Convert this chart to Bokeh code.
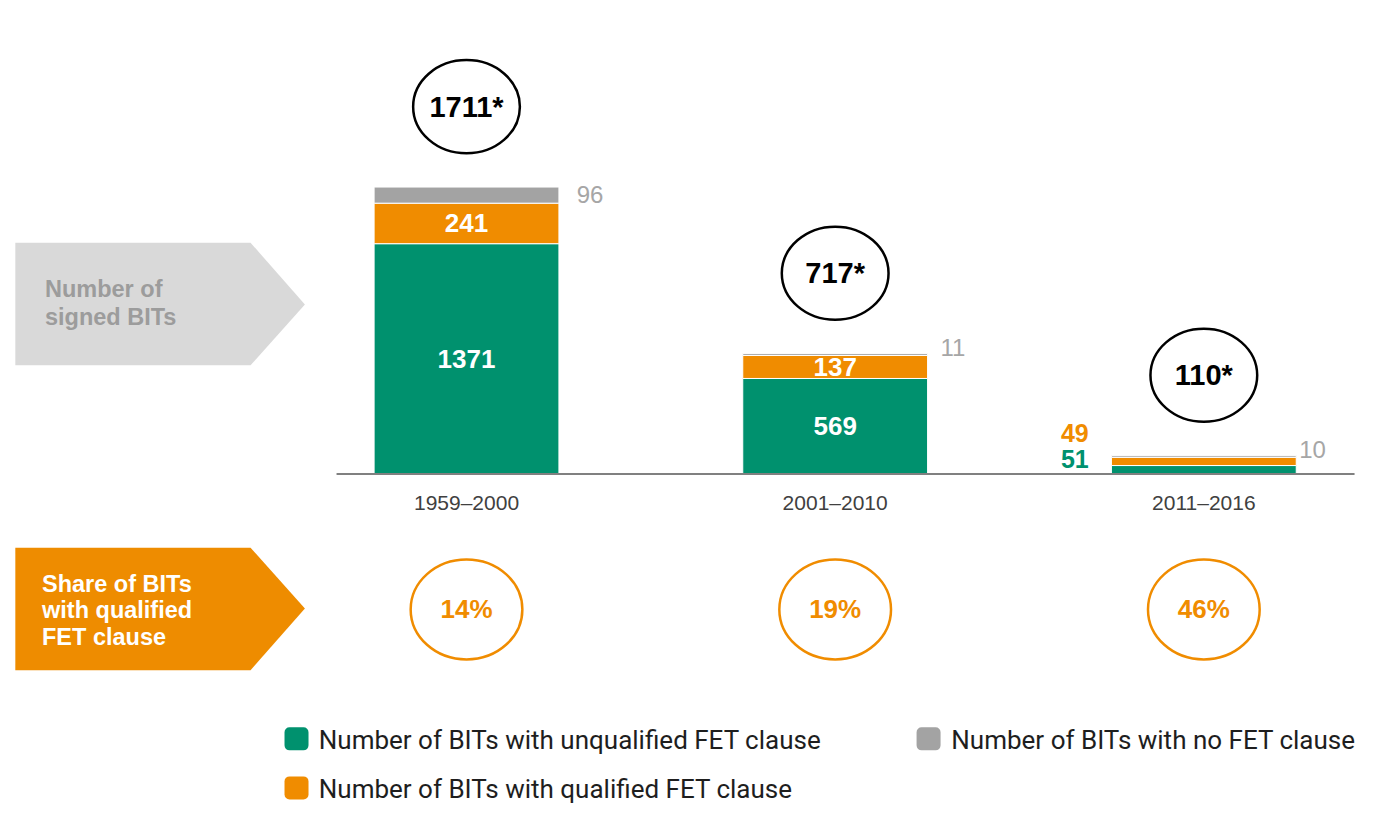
from bokeh.plotting import figure
from bokeh.models import ColumnDataSource, Range1d
from bokeh.core.properties import value
from bokeh.embed import file_html
from bokeh.resources import INLINE

# ---------------- data ----------------
categories = ["1959–2000", "2001–2010", "2011–2016"]
unqualified = [1371, 569, 51]
qualified = [241, 137, 49]
no_fet = [96, 11, 10]
total_labels = ["1711*", "717*", "110*"]
share_labels = ["14%", "19%", "46%"]
series_names = ["Number of BITs with unqualified FET clause",
                "Number of BITs with qualified FET clause",
                "Number of BITs with no FET clause"]

GREEN = "#00916E"
ORANGE = "#F08C00"
GRAY = "#A3A3A3"
FONT = value("Liberation Sans")
LEGFONT = value("Roboto")

# layout helpers: reference-pixel position -> data coordinates
XC0, XSTEP = 471.5, 373.0     # first bar centre, spacing (ref px)
BASE, PXU = 483.0, 0.1714     # baseline ref y, ref px per BIT
def X(rx):
    return (rx - XC0) / XSTEP
def Y(ry):
    return (BASE - ry) / PXU
def W(px):
    return px / XSTEP
def H(px):
    return px / PXU

W_FIG, H_FIG = 1359, 807
p = figure(width=W_FIG, height=H_FIG, output_backend="svg", toolbar_location=None,
           x_axis_location=None, y_axis_location=None,
           x_range=Range1d(X(0), X(1375)), y_range=Range1d(Y(823), Y(0)),
           min_border=0, outline_line_color=None, background_fill_color="white",
           border_fill_color="white")
p.xgrid.visible = False
p.ygrid.visible = False

xs = list(range(len(categories)))
src = ColumnDataSource(dict(x=xs, unq=unqualified, qual=qualified, nofet=no_fet))
BAR_W = W(187)
p.vbar_stack(["unq", "qual", "nofet"], x="x", width=BAR_W, color=[GREEN, ORANGE, GRAY],
             line_color="white", line_width=1, source=src)

# baseline
p.segment(x0=[X(340)], y0=[0], x1=[X(1370)], y1=[0], line_color="#808080", line_width=2)

# category labels
p.text(x=xs, y=[Y(512)] * 3, text=categories, text_align="center", text_baseline="middle",
       text_font=FONT, text_font_size="21px", text_color="#404040")

# inside labels (first two bars)
in_x, in_y, in_t = [], [], []
for i in range(2):
    in_x += [i, i]
    in_y += [unqualified[i] / 2, unqualified[i] + qualified[i] / 2]
    in_t += [str(unqualified[i]), str(qualified[i])]
p.text(x=in_x, y=in_y, text=in_t, text_align="center", text_baseline="middle",
       text_font=FONT, text_font_style="bold", text_font_size="26px", text_color="white")

# outside labels for last bar
i = 2
p.text(x=[i - BAR_W / 2 - W(23)] * 2, y=[Y(441), Y(468)],
       text=[str(qualified[i]), str(unqualified[i])], text_align="right", text_baseline="middle",
       text_font=FONT, text_font_style="bold", text_font_size="25px", text_color=[ORANGE, GREEN])

# gray (no FET) labels right of stacks
tops = [u + q + n for u, q, n in zip(unqualified, qualified, no_fet)]
g_dx = [W(18), W(13), W(3)]
g_dy = [H(-8), H(6), H(6)]
p.text(x=[xs[k] + BAR_W / 2 + g_dx[k] for k in xs], y=[tops[k] + g_dy[k] for k in xs],
       text=[str(v) for v in no_fet], text_align="left", text_baseline="middle",
       text_font=FONT, text_font_size="24px", text_color="#A6A6A6")

# total ellipses
tot_y = [t + H(82) for t in tops]
p.ellipse(x=xs, y=tot_y, width=W(108), height=H(95), fill_color=None,
          line_color="black", line_width=2.5)
p.text(x=xs, y=tot_y, text=total_labels, text_align="center", text_baseline="middle",
       text_font=FONT, text_font_style="bold", text_font_size="29px", text_color="black")

# share ellipses
p.ellipse(x=xs, y=[Y(621)] * 3, width=W(113), height=H(102), fill_color=None,
          line_color=ORANGE, line_width=2.5)
p.text(x=xs, y=[Y(621)] * 3, text=share_labels, text_align="center", text_baseline="middle",
       text_font=FONT, text_font_style="bold", text_font_size="26px", text_color=ORANGE)

# left arrow boxes
p.patch(x=[X(15), X(253), X(308), X(253), X(15)], y=[Y(247), Y(247), Y(310), Y(372), Y(372)],
        fill_color="#D9D9D9", line_color=None)
p.text(x=[X(45)] * 2, y=[Y(294), Y(323)], text=["Number of", "signed BITs"],
       text_align="left", text_baseline="middle", text_font=FONT, text_font_style="bold",
       text_font_size="23.5px", text_color="#9C9C9C")
p.patch(x=[X(15), X(253), X(308), X(253), X(15)], y=[Y(558), Y(558), Y(620), Y(683), Y(683)],
        fill_color="#EE8C00", line_color=None)
p.text(x=[X(42)] * 3, y=[Y(595), Y(622), Y(649)],
       text=["Share of BITs", "with qualified", "FET clause"],
       text_align="left", text_baseline="middle", text_font=FONT, text_font_style="bold",
       text_font_size="23.5px", text_color="white")

# legend (manual)
leg_x = [X(299.5), X(299.5), X(939)]
leg_y = [Y(753), Y(803), Y(753)]
p.rect(x=leg_x, y=leg_y, width=24, height=23, width_units="screen", height_units="screen",
       fill_color=[GREEN, ORANGE, GRAY], line_color=None, border_radius=5)
p.text(x=[X(322), X(322), X(962)], y=[Y(754), Y(804), Y(754)], text=series_names,
       text_align="left", text_baseline="middle", text_font=LEGFONT,
       text_font_size="26px", text_color="#1E1E1E")

open("out.html", "w").write(file_html(p, INLINE))
